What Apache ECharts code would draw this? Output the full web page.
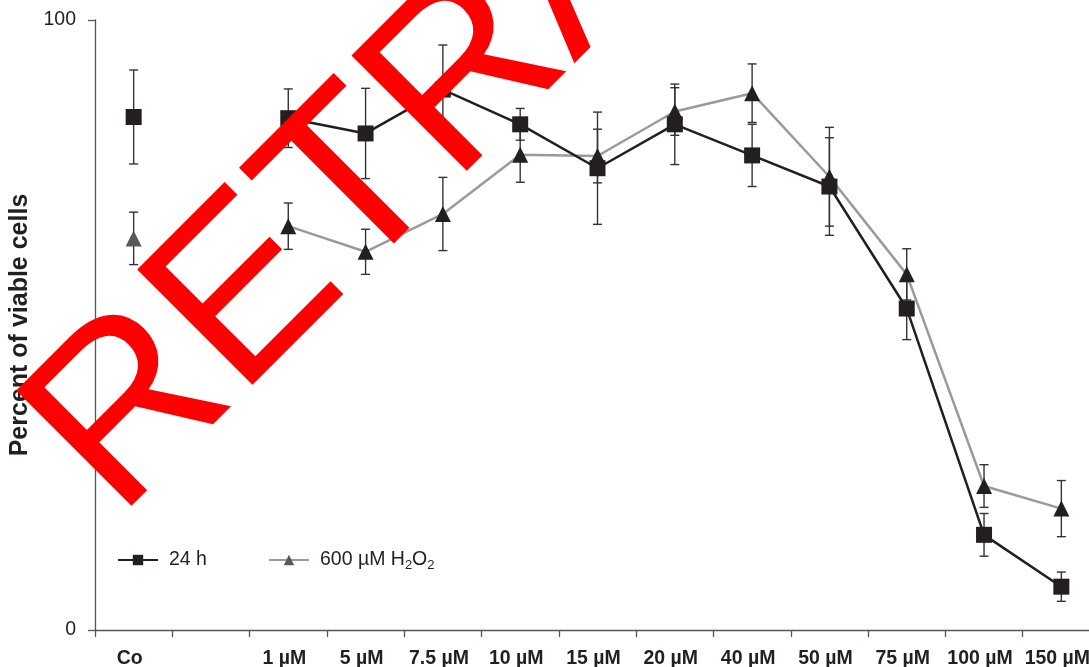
<!DOCTYPE html>
<html><head><meta charset="utf-8">
<script src="https://cdn.jsdelivr.net/npm/echarts@6/dist/echarts.min.js"></script>
<style>html,body{margin:0;padding:0;background:#fff;overflow:hidden}#c{width:1100px;height:667px}</style>
</head><body><div id="c"></div>
<script>
// ---- data ----
const categories = ['Co', '', '1 µM', '5 µM', '7.5 µM', '10 µM', '15 µM', '20 µM', '40 µM', '50 µM', '75 µM', '100 µM', '150 µM'];
const seriesNames = ['24 h', '600 µM H2O2'];
const h24 = [84.1, null, 83.9, 81.4, 88.6, 82.9, 75.7, 82.9, 77.8, 72.7, 52.7, 15.6, 7.1];
const h24Err = [7.7, null, 4.8, 7.4, 7.3, 2.6, 9.2, 6.6, 5.1, 8.0, 5.1, 3.5, 2.4];
const h2o2 = [64.2, null, 66.2, 62.0, 68.2, 77.9, 77.7, 85.0, 88.0, 74.3, 58.3, 23.6, 19.9];
const h2o2Err = [4.3, null, 3.8, 3.7, 6.0, 4.5, 4.4, 3.9, 4.8, 8.1, 4.2, 3.5, 4.6];
const yMin = 0, yMax = 100, yInterval = 100;
const yTitle = 'Percent of viable cells';
const watermark = 'RETRACTED';

const BLACK = '#231f20', GRAY_LINE = '#9a9a9a', ERR = '#333333', CO_TRI = '#58595b';

function errData(vals, errs) {
  const out = [];
  vals.forEach((v, i) => { if (v != null) out.push([i, v - errs[i], v + errs[i]]); });
  return out;
}
function renderErr(params, api) {
  const x = api.value(0);
  const lo = api.coord([x, api.value(1)]);
  const hi = api.coord([x, api.value(2)]);
  const w = 4.5;
  const st = { stroke: ERR, lineWidth: 1.4 };
  return { type: 'group', children: [
    { type: 'line', shape: { x1: lo[0], y1: lo[1], x2: hi[0], y2: hi[1] }, style: st },
    { type: 'line', shape: { x1: lo[0] - w, y1: lo[1], x2: lo[0] + w, y2: lo[1] }, style: st },
    { type: 'line', shape: { x1: hi[0] - w, y1: hi[1], x2: hi[0] + w, y2: hi[1] }, style: st }
  ]};
}

const chart = echarts.init(document.getElementById('c'), null, { renderer: 'canvas' });
const FONT = '"Liberation Sans", Arial, Helvetica, sans-serif';

chart.setOption({
  animation: false,
  textStyle: { fontFamily: FONT },
  grid: { left: 95, right: 0, top: 20, bottom: 37, containLabel: false, outerBoundsMode: 'none' },
  legend: {
    left: 117, top: 550, padding: 0, itemWidth: 40, itemHeight: 13, itemGap: 61,
    data: seriesNames,
    textStyle: { fontSize: 19.5, color: '#231f20', fontFamily: FONT, padding: [0, 0, 0, 6],
      rich: { sub: { fontSize: 13, color: '#231f20', fontFamily: FONT, padding: [10, 0, 0, 0] } } },
    formatter: function (n) { return n === seriesNames[1] ? '600 µM H{sub|2}O{sub|2}' : n; }
  },
  xAxis: {
    type: 'category', data: categories, boundaryGap: true,
    axisLine: { lineStyle: { color: '#555', width: 1.3 } },
    axisTick: { show: true, length: 7, interval: 0, lineStyle: { color: '#555', width: 1.3 } },
    axisLabel: { interval: 0, fontSize: 19.5, fontWeight: 'bold', color: '#231f20', margin: 19, fontFamily: FONT, padding: [0, 8, 0, 0] },
    splitLine: { show: false }
  },
  yAxis: {
    type: 'value', min: yMin, max: yMax, interval: yInterval,
    name: yTitle, nameLocation: 'middle', nameRotate: 90, nameGap: 57,
    nameTextStyle: { fontSize: 25, fontWeight: 'bold', color: '#231f20', fontFamily: FONT },
    axisLine: { show: true, lineStyle: { color: '#555', width: 1.3 } },
    axisTick: { show: true, length: 7, lineStyle: { color: '#555', width: 1.3 } },
    axisLabel: { fontSize: 19.5, color: '#231f20', margin: 19, fontFamily: FONT },
    splitLine: { show: false }
  },
  series: [
    { type: 'custom', name: 'err24', renderItem: renderErr, data: errData(h24, h24Err), encode: { x: 0, y: [1, 2] }, z: 1, silent: true },
    { type: 'custom', name: 'errH2', renderItem: renderErr, data: errData(h2o2, h2o2Err), encode: { x: 0, y: [1, 2] }, z: 1, silent: true },
    { type: 'line', name: seriesNames[1], data: h2o2.map((v, i) => i === 0 ? { value: v, itemStyle: { color: CO_TRI } } : { value: v, itemStyle: { color: BLACK } }),
      symbol: 'triangle', symbolSize: 16, connectNulls: false,
      itemStyle: { color: CO_TRI }, lineStyle: { color: GRAY_LINE, width: 2.5 }, z: 3 },
    { type: 'line', name: seriesNames[0], data: h24, symbol: 'rect', symbolSize: 16, connectNulls: false,
      itemStyle: { color: BLACK }, lineStyle: { color: BLACK, width: 2.5 }, z: 4 }
  ],
  graphic: [{
    type: 'text', x: 71.6, y: 473.4, rotation: Math.PI / 4, z: 100, silent: true,
    style: { text: watermark, fill: '#ff0000', fontSize: 237, fontFamily: FONT,
      align: 'left', verticalAlign: 'middle', textAlign: 'left', textVerticalAlign: 'middle' }
  }]
});
</script>
</body></html>
